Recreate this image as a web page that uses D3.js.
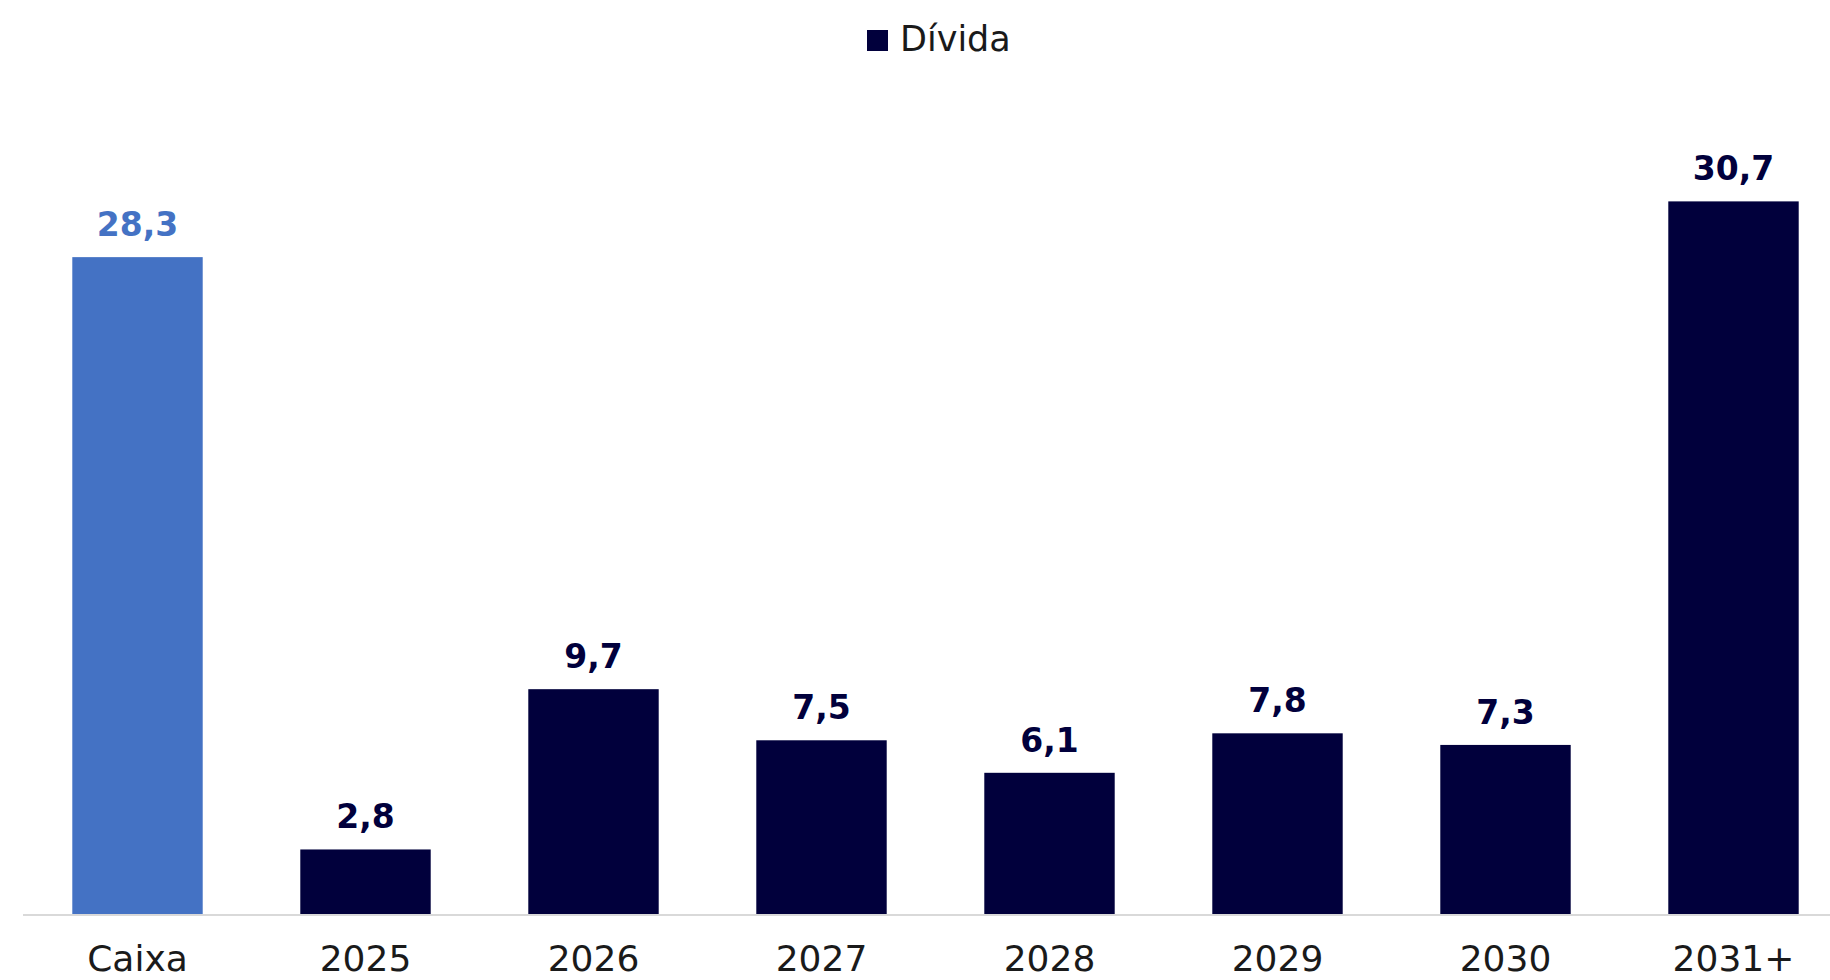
<!DOCTYPE html>
<html>
<head>
<meta charset="utf-8">
<script src="https://cdn.jsdelivr.net/npm/d3@7"></script>
<style>
  html, body { margin: 0; padding: 0; background: #ffffff; }
  svg { display: block; }
</style>
</head>
<body>
<svg id="chart" width="1830" height="980"></svg>
<script>
// Cash position and debt maturity schedule (R$ bi)
const categories = ["Caixa", "2025", "2026", "2027", "2028", "2029", "2030", "2031+"];
const values = [28.3, 2.8, 9.7, 7.5, 6.1, 7.8, 7.3, 30.7];
const valueLabels = ["28,3", "2,8", "9,7", "7,5", "6,1", "7,8", "7,3", "30,7"];
const legendLabels = ["Dívida"];

const cashColor = "#4472C4";
const debtColor = "#01003C";

const W = 1830, H = 980;
const svg = d3.select("#chart");

const x = d3.scaleBand()
  .domain(categories)
  .range([23.5, 1847.5])
  .paddingInner(0.428)
  .paddingOuter(0.214);

const y = d3.scaleLinear()
  .domain([0, 35])
  .range([914.5, 101.5]);

const colorOf = (c) => c === "Caixa" ? cashColor : debtColor;

// bars
svg.append("g")
  .selectAll("rect")
  .data(categories)
  .join("rect")
  .attr("x", d => x(d))
  .attr("width", x.bandwidth())
  .attr("y", (d, i) => y(values[i]))
  .attr("height", (d, i) => y(0) - y(values[i]))
  .attr("fill", d => colorOf(d));

// baseline
svg.append("line")
  .attr("x1", 23).attr("x2", W)
  .attr("y1", y(0) + 0.5).attr("y2", y(0) + 0.5)
  .attr("stroke", "#d9d9d9")
  .attr("stroke-width", 2);

// value labels
svg.append("g")
  .selectAll("text")
  .data(categories)
  .join("text")
  .attr("x", d => x(d) + x.bandwidth() / 2)
  .attr("y", (d, i) => y(values[i]) - 21)
  .attr("text-anchor", "middle")
  .attr("font-family", "'DejaVu Sans', sans-serif")
  .attr("font-weight", "bold")
  .attr("font-size", 33)
  .attr("fill", d => colorOf(d))
  .text((d, i) => valueLabels[i]);

// category axis
const xAxis = d3.axisBottom(x).tickSize(0).tickPadding(0);
const gx = svg.append("g")
  .attr("transform", `translate(0, ${y(0)})`)
  .call(xAxis);
gx.select(".domain").remove();
gx.selectAll("text")
  .attr("dy", null)
  .attr("y", 56)
  .attr("font-family", "'DejaVu Sans', sans-serif")
  .attr("font-size", 36)
  .attr("fill", "#1a1a1a");

// legend
const legend = svg.append("g").attr("transform", "translate(867, 30)");
legend.append("rect")
  .attr("width", 21).attr("height", 21)
  .attr("fill", debtColor);
legend.append("text")
  .attr("x", 33).attr("y", 20.7)
  .attr("font-family", "'DejaVu Sans', sans-serif")
  .attr("font-size", 35)
  .attr("fill", "#1a1a1a")
  .text(legendLabels[0]);
</script>
</body>
</html>
